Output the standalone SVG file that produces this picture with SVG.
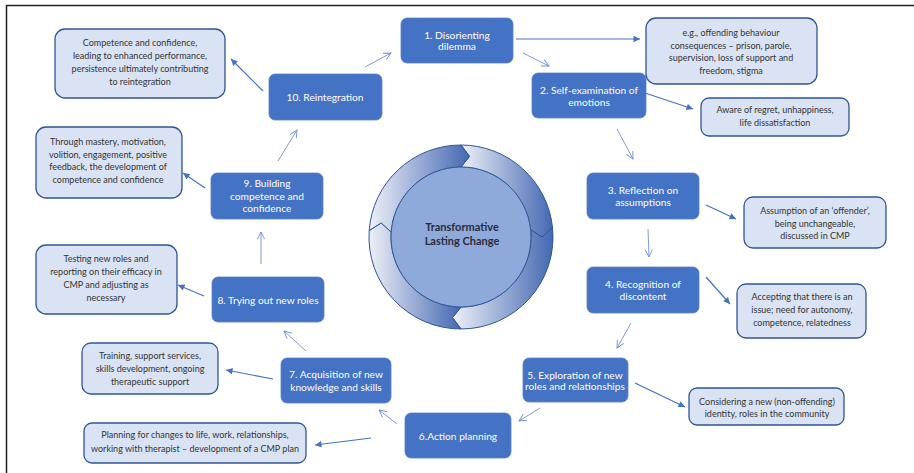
<svg xmlns="http://www.w3.org/2000/svg" width="914" height="473" viewBox="0 0 914 473">
<defs>
<style>
.dk rect{fill:#4472C4;stroke:#5b80c7;stroke-width:0.8}
.dk text{fill:#ffffff;font-family:Lato,"Liberation Sans",sans-serif;font-size:10.2px;text-anchor:middle}
.lt rect{fill:#DAE3F3;stroke:#2F5597;stroke-width:1.3}
.lt text{fill:#333333;font-family:Lato,"Liberation Sans",sans-serif;font-size:9px;text-anchor:middle}
.cy{stroke:#6f8fd2;stroke-width:0.9;fill:none;marker-end:url(#open)}
.ds{stroke:#4472C4;stroke-width:1.2;fill:none;marker-end:url(#solid)}
.seg{stroke:#2f5597;stroke-width:1}
</style>
<marker id="open" viewBox="0 0 10 10" refX="9" refY="5" markerWidth="9" markerHeight="9" markerUnits="userSpaceOnUse" orient="auto">
<path d="M1,1 L9,5 L1,9" fill="none" stroke="#6f8fd2" stroke-width="1"/>
</marker>
<marker id="solid" viewBox="0 0 10 10" refX="10" refY="5" markerWidth="7.5" markerHeight="6.5" markerUnits="userSpaceOnUse" orient="auto">
<path d="M0,0 L10,5 L0,10 Z" fill="#4472C4"/>
</marker>
<linearGradient id="g" x1="0" y1="0" x2="1" y2="0">
<stop offset="0" stop-color="#eef0f8"/>
<stop offset="1" stop-color="#4468b2"/>
</linearGradient>
</defs>

<!-- frame -->
<path d="M6.5,473 V5.5 H914" fill="none" stroke="#222" stroke-width="1.5"/>

<!-- centre cycle -->
<g id="cycle">
<path class="seg" fill="url(#g)" d="M461.0,145.0 A92,92 0 0 1 552.5,227.4 L542.0,237.0 L530.6,229.7 A70,70 0 0 0 461.0,167.0 L469.5,156.4 Z"/>
<path class="seg" fill="url(#g)" d="M552.5,227.4 A92,92 0 0 1 461.0,329.0 L452.5,317.6 L461.0,307.0 A70,70 0 0 0 530.6,229.7 L542.0,237.0 Z"/>
<path class="seg" fill="url(#g)" d="M461.0,329.0 A92,92 0 0 1 369.2,230.6 L381.2,222.9 L391.2,232.1 A70,70 0 0 0 461.0,307.0 L452.5,317.6 Z"/>
<path class="seg" fill="url(#g)" d="M369.2,230.6 A92,92 0 0 1 461.0,145.0 L469.5,156.4 L461.0,167.0 A70,70 0 0 0 391.2,232.1 L381.2,222.9 Z"/>
<circle cx="461" cy="237" r="70" fill="#8eaadb" stroke="#2f5597" stroke-width="1"/>
<text x="462" y="231" font-family="Lato,'Liberation Sans',sans-serif" font-size="11px" font-weight="bold" fill="#2b2b3a" text-anchor="middle">Transformative</text>
<text x="462" y="245" font-family="Lato,'Liberation Sans',sans-serif" font-size="11px" font-weight="bold" fill="#2b2b3a" text-anchor="middle">Lasting Change</text>
</g>

<!-- connectors -->
<g id="connectors">
<line class="cy" x1="523" y1="53" x2="549" y2="66"/>
<line class="cy" x1="617" y1="129" x2="633" y2="159"/>
<line class="cy" x1="648" y1="229" x2="649" y2="257"/>
<line class="cy" x1="631" y1="323" x2="617" y2="348"/>
<line class="cy" x1="540" y1="408" x2="519" y2="421"/>
<line class="cy" x1="397" y1="424" x2="379" y2="410"/>
<line class="cy" x1="306" y1="351" x2="284" y2="331"/>
<line class="cy" x1="261" y1="264" x2="261" y2="232"/>
<line class="cy" x1="278" y1="161" x2="297" y2="130"/>
<line class="cy" x1="365" y1="67" x2="391" y2="53"/>
<line class="ds" x1="516" y1="39" x2="640" y2="39"/>
<line class="ds" x1="645" y1="93" x2="693" y2="109"/>
<line class="ds" x1="706" y1="205" x2="736" y2="219"/>
<line class="ds" x1="706" y1="277" x2="730" y2="304"/>
<line class="ds" x1="635" y1="383" x2="685" y2="407"/>
<line class="ds" x1="371" y1="438" x2="315" y2="445"/>
<line class="ds" x1="273" y1="379" x2="226" y2="370"/>
<line class="ds" x1="204" y1="296" x2="178" y2="285"/>
<line class="ds" x1="205" y1="188" x2="183" y2="173"/>
<line class="ds" x1="263" y1="91" x2="231" y2="59"/>
</g>

<!-- stage nodes -->
<g id="n1" class="dk"><rect x="401" y="18" width="112" height="45" rx="6"/><text x="457" y="38.5">1. Disorienting</text><text x="457" y="49.5">dilemma</text></g>
<g id="n2" class="dk"><rect x="532" y="73" width="114" height="45" rx="6"/><text x="589" y="93.5">2. Self-examination of</text><text x="589" y="105.5">emotions</text></g>
<g id="n3" class="dk"><rect x="587" y="173" width="112" height="46" rx="6"/><text x="643" y="193.5">3. Reflection on</text><text x="643" y="205.5">assumptions</text></g>
<g id="n4" class="dk"><rect x="587" y="267" width="112" height="46" rx="6"/><text x="643" y="287.5">4. Recognition of</text><text x="643" y="299.5">discontent</text></g>
<g id="n5" class="dk"><rect x="523" y="358" width="105" height="44" rx="6"/><text x="575" y="378.5">5. Exploration of new</text><text x="575" y="389.5">roles and relationships</text></g>
<g id="n6" class="dk"><rect x="405" y="413" width="106" height="45" rx="6"/><text x="458" y="439.5">6.Action planning</text></g>
<g id="n7" class="dk"><rect x="281" y="358" width="110" height="45" rx="6"/><text x="336" y="377.5">7. Acquisition of new</text><text x="336" y="390.5">knowledge and skills</text></g>
<g id="n8" class="dk"><rect x="212" y="277" width="112" height="45" rx="6"/><text x="268" y="303.5">8. Trying out new roles</text></g>
<g id="n9" class="dk"><rect x="211" y="173" width="112" height="46" rx="6"/><text x="267" y="186.5">9. Building</text><text x="267" y="199.5">competence and</text><text x="267" y="211.5">confidence</text></g>
<g id="n10" class="dk"><rect x="269" y="74" width="113" height="46" rx="6"/><text x="325" y="100.5">10. Reintegration</text></g>

<!-- description nodes -->
<g id="d1" class="lt"><rect x="646" y="18" width="171" height="66" rx="10"/><text x="731" y="36">e.g., offending behaviour</text><text x="731" y="48.5">consequences – prison, parole,</text><text x="731" y="61">supervision, loss of support and</text><text x="731" y="74">freedom, stigma</text></g>
<g id="d2" class="lt"><rect x="701" y="98" width="148" height="38" rx="8"/><text x="775" y="113">Aware of regret, unhappiness,</text><text x="775" y="126">life dissatisfaction</text></g>
<g id="d3" class="lt"><rect x="744" y="197" width="142" height="51" rx="9"/><text x="815" y="214">Assumption of an ‘offender’,</text><text x="815" y="226.5">being unchangeable,</text><text x="815" y="239">discussed in CMP</text></g>
<g id="d4" class="lt"><rect x="737" y="284" width="129" height="54" rx="9"/><text x="802" y="300">Accepting that there is an</text><text x="802" y="313">issue; need for autonomy,</text><text x="802" y="326">competence, relatedness</text></g>
<g id="d5" class="lt"><rect x="689" y="388" width="155" height="37" rx="8"/><text x="767" y="405">Considering a new (non-offending)</text><text x="767" y="417">identity, roles in the community</text></g>
<g id="d6" class="lt"><rect x="84" y="423" width="222" height="40" rx="8"/><text x="195" y="438">Planning for changes to life, work, relationships,</text><text x="195" y="452">working with therapist – development of a CMP plan</text></g>
<g id="d7" class="lt"><rect x="82" y="343" width="136" height="51" rx="9"/><text x="150" y="359">Training, support services,</text><text x="150" y="372">skills development, ongoing</text><text x="150" y="385">therapeutic support</text></g>
<g id="d8" class="lt"><rect x="36" y="245" width="141" height="69" rx="10"/><text x="106" y="262">Testing new roles and</text><text x="106" y="275">reporting on their efficacy in</text><text x="106" y="288">CMP and adjusting as</text><text x="106" y="301">necessary</text></g>
<g id="d9" class="lt"><rect x="36" y="127" width="146" height="71" rx="10"/><text x="108" y="145">Through mastery, motivation,</text><text x="108" y="157.5">volition, engagement, positive</text><text x="108" y="170">feedback, the development of</text><text x="108" y="183">competence and confidence</text></g>
<g id="d10" class="lt"><rect x="55" y="29" width="170" height="69" rx="10"/><text x="140" y="46">Competence and confidence,</text><text x="140" y="59">leading to enhanced performance,</text><text x="140" y="72">persistence ultimately contributing</text><text x="140" y="85">to reintegration</text></g>
</svg>
